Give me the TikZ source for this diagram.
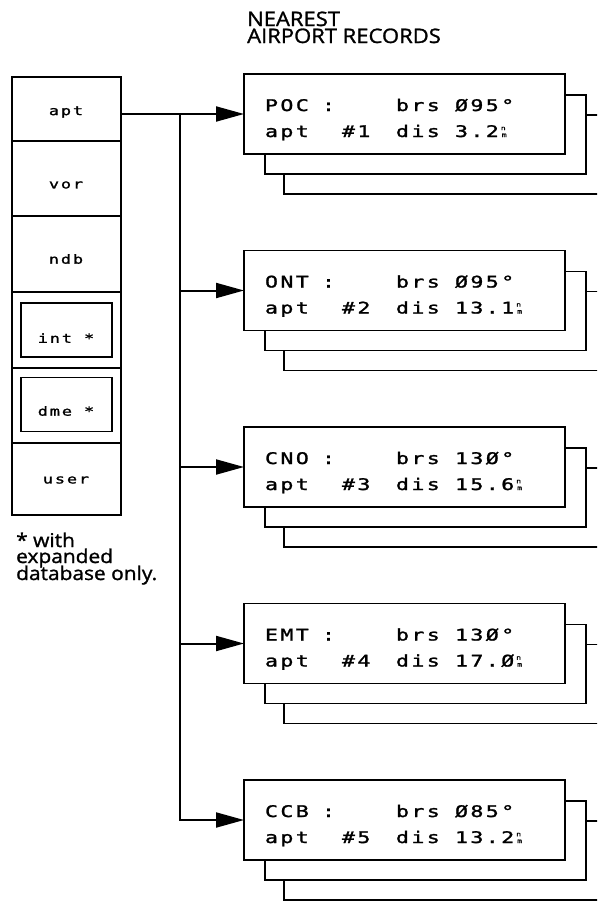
\documentclass[tikz,border=0pt]{standalone}
\usepackage{fontspec}
\setmainfont[FakeBold=1.3, FakeStretch=1.1]{Open Sans}
\newfontfamily\lcd[FakeStretch=1.35, LetterSpace=15, FakeBold=1.5]{DejaVu Sans Mono}
\usetikzlibrary{arrows.meta,calc}
\newcommand{\nmunit}{\hspace{2pt}{\fontsize{6}{6}\selectfont\begin{tabular}[b]{@{}l@{}}n\\[0.8pt]\,m\end{tabular}}}
\begin{document}
\begin{tikzpicture}[x=1pt,y=-1pt,
  boxline/.style={line width=1.6pt},
  recbox/.style={draw, line width=1.6pt, fill=white, minimum width=321pt, minimum height=80pt, inner sep=0pt, outer sep=0pt, anchor=north west},
  cell/.style={draw, line width=1.2pt, minimum width=109pt, inner sep=0pt, outer sep=0pt, anchor=north west},
  inbox/.style={draw, line width=1.6pt, minimum width=91pt, minimum height=54pt, inner sep=0pt, outer sep=0pt},
  lcdtext/.style={font=\lcd\fontsize{16}{16}\selectfont, inner sep=0pt, outer sep=0pt, anchor=base west},
  celltext/.style={font=\lcd\fontsize{12.5}{12.5}\selectfont, inner sep=0pt},
  sans/.style={font=\fontsize{20}{16}\selectfont, inner sep=0pt, anchor=base west},
  note/.style={font=\fontsize{19}{16}\selectfont, inner sep=0pt, anchor=base west},
  conn/.style={line width=2pt},
  arr/.style={conn, -{Triangle[length=28pt,width=15pt]}}]
\useasboundingbox (0,0) rectangle (597,902);
\clip (0,0) rectangle (597,902);

% title
\node[sans] (title1) at (247,26) {NEAREST};
\node[sans] (title2) at (247,43) {AIRPORT RECORDS};

% left column
\node[cell, minimum height=64pt] (capt) at (12,77) {};
\node[cell, minimum height=75pt] (cvor) at (12,141) {};
\node[cell, minimum height=76pt] (cndb) at (12,216) {};
\node[cell, minimum height=76pt] (cint) at (12,292) {};
\node[cell, minimum height=75pt] (cdme) at (12,368) {};
\node[cell, minimum height=72pt] (cuser) at (12,443) {};
\draw[line width=2pt] (capt.north west) rectangle (cuser.south east);
\node[inbox] (iint) at (66.5,330) {};
\node[inbox] (idme) at (66.5,404.5) {};
\node[celltext] (lapt) at (66,112) {apt};
\node[celltext] (lvor) at (66,185) {vor};
\node[celltext] (lndb) at (66,259) {ndb};
\node[celltext] (lint) at (66,338) {int *};
\node[celltext] (ldme) at (66,411) {dme *};
\node[celltext] (luser) at (66,480) {user};

\node[note] (note1) at (16,547) {* with};
\node[note] (note2) at (16,563) {expanded};
\node[note] (note3) at (16,580) {database only.};

% record boxes
\coordinate (tk) at (180,0);
\foreach \k/\code/\brg/\dis [evaluate=\k as \ty using {74+176.5*(\k-1)}] in
  {1/POC/Ø95°/3.2, 2/ONT/Ø95°/13.1, 3/CNO/13Ø°/15.6, 4/EMT/13Ø°/17.Ø, 5/CCB/Ø85°/13.2}{
  \node[recbox] (b\k) at (244,\ty) {};
  % stacked records behind
  \draw[boxline] ($(b\k.south west)+(21,0)$) -- ++(0,20) -| ($(b\k.north east)+(21,21)$) -- ($(b\k.north east)+(0,21)$);
  \draw[boxline] ($(b\k.south west)+(40,20)$) -- ++(0,20) -- ++(400,0);
  \draw[boxline] ($(b\k.north east)+(21,41)$) -- ++(100,0);
  % texts
  \node[lcdtext] (b\k-code) at ($(b\k.north west)+(21,37)$) {\code};
  \node[lcdtext] (b\k-colon) at ($(b\k.north west)+(78,37)$) {:};
  \node[lcdtext] (b\k-brs) at ($(b\k.north west)+(152,37)$) {brs};
  \node[lcdtext] (b\k-brg) at ($(b\k.north west)+(211,37)$) {\brg};
  \node[lcdtext] (b\k-apt) at ($(b\k.north west)+(21,63)$) {apt};
  \node[lcdtext] (b\k-num) at ($(b\k.north west)+(98,63)$) {\#\k};
  \node[lcdtext] (b\k-dlab) at ($(b\k.north west)+(152,63)$) {dis};
  \node[lcdtext] (b\k-dis) at ($(b\k.north west)+(211,63)$) {\dis\nmunit};
}

% connectors
\draw[arr] (capt.east |- b1.west) -- (b1.west);
\draw[arr] (tk |- b1.west) |- (b5.west);
\draw[arr] (tk |- b2.west) -- (b2.west);
\draw[arr] (tk |- b3.west) -- (b3.west);
\draw[arr] (tk |- b4.west) -- (b4.west);
\end{tikzpicture}
\end{document}
